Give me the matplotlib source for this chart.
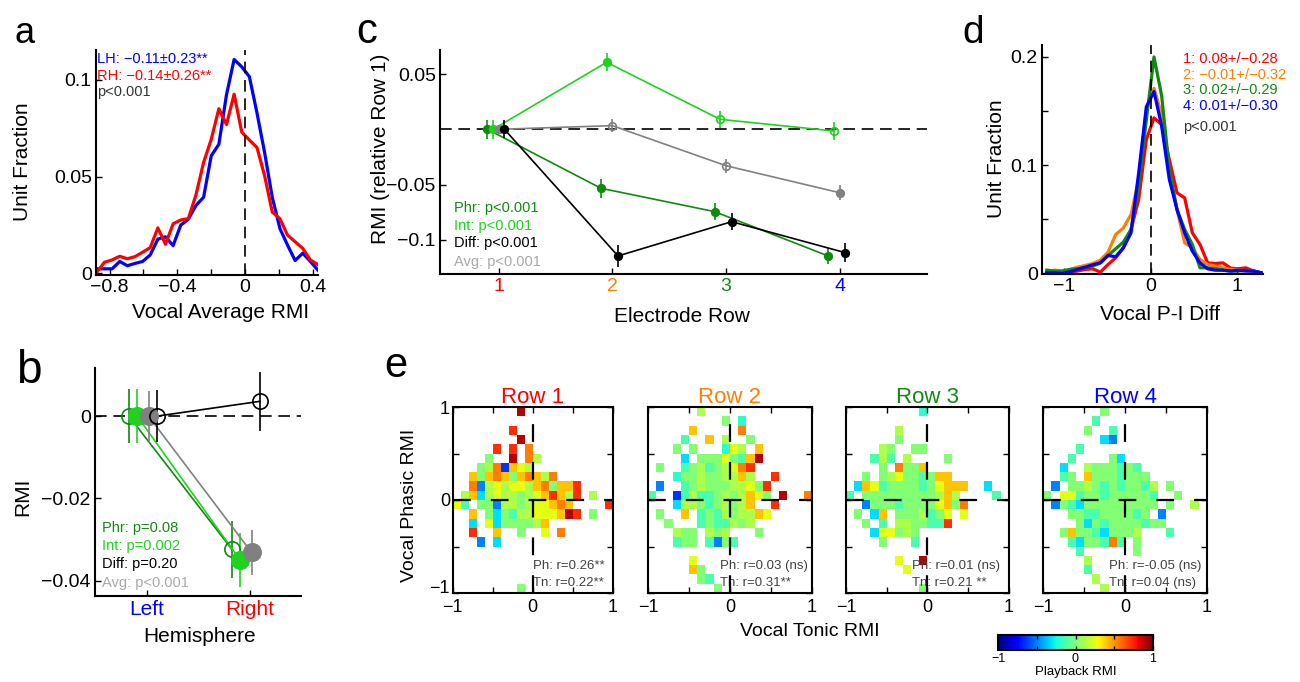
import numpy as np
import matplotlib
matplotlib.use('Agg')
import matplotlib.pyplot as plt
from matplotlib.colors import Normalize
from matplotlib.cm import ScalarMappable

plt.rcParams['font.family'] = ['Liberation Sans', 'DejaVu Sans']

W, H = 1300, 682

RED = '#ff0000'
ORANGE = '#ff8000'
DKGREEN = '#0f8a0f'
LTGREEN = '#1ed21e'
BLUE = '#0000ff'
GRAY = '#808080'
LTGRAY = '#a8a8a8'
DASH = (0, (7, 4))

# ---- a: vocal average RMI distributions ----
rmi_bins = np.linspace(-0.875, 0.43, 30)
lh_frac = [0.0022, 0.0022, 0.0022, 0.006, 0.0038, 0.005, 0.006, 0.0094, 0.0176, 0.0188,
           0.0142, 0.0248, 0.0279, 0.035, 0.0393, 0.0607, 0.0667, 0.0923, 0.1106, 0.1068,
           0.1017, 0.0829, 0.0624, 0.0393, 0.0231, 0.0145, 0.0065, 0.0103, 0.006, 0.0015]
rh_frac = [0.0005, 0.0056, 0.0068, 0.0087, 0.0074, 0.0085, 0.0108, 0.0132, 0.0234, 0.0149,
           0.0255, 0.0275, 0.0282, 0.0405, 0.0573, 0.0692, 0.0851, 0.0769, 0.0926, 0.073,
           0.0689, 0.065, 0.0504, 0.0316, 0.0282, 0.0197, 0.0162, 0.0128, 0.0068, 0.0043]

# ---- b: hemisphere ----
hemis = ['Left', 'Right']
b_phr = [0.0, -0.0324]
b_phr_err = [0.0066, 0.0069]
b_int = [0.0, -0.035]
b_int_err = [0.0066, 0.0065]
b_avg = [0.0, -0.0331]
b_avg_err = [0.006, 0.0054]
b_diff = [0.0, 0.0036]
b_diff_err = [0.0063, 0.0072]

# ---- c: electrode row ----
elec_rows = [1, 2, 3, 4]
c_phr = [0.0, -0.0533, -0.0744, -0.1145]
c_phr_err = [0.0087, 0.0087, 0.0075, 0.0075]
c_int = [0.0, 0.0606, 0.009, -0.0015]
c_int_err = [0.0087, 0.0083, 0.0075, 0.0078]
c_avg = [0.0, 0.0033, -0.0329, -0.0573]
c_avg_err = [0.004, 0.006, 0.0065, 0.0068]
c_diff = [0.0, -0.1145, -0.0835, -0.1115]
c_diff_err = [0.0083, 0.0101, 0.0078, 0.0083]
c_int_filled = [True, True, False, False]
c_avg_filled = [True, False, False, True]

# ---- d: phasic - tonic difference ----
pi_bins = np.linspace(-1.2, 1.28, 29)
pi_row1 = [0.0, 0.0003, 0.0006, 0.0012, 0.0022, 0.0037, 0.0043, 0.0012, 0.0083, 0.0145,
           0.0237, 0.0406, 0.0683, 0.1237, 0.1437, 0.1375, 0.1052, 0.0745, 0.0698, 0.0375,
           0.0268, 0.0098, 0.0092, 0.0098, 0.0049, 0.0043, 0.0052, 0.0022, 0.0006]
pi_row2 = [0.0012, 0.0031, 0.0022, 0.0037, 0.0058, 0.0074, 0.0092, 0.0123, 0.0197, 0.036,
           0.042, 0.0545, 0.0868, 0.151, 0.171, 0.1468, 0.093, 0.059, 0.0283, 0.0237,
           0.0129, 0.0083, 0.0068, 0.0052, 0.0037, 0.0031, 0.0025, 0.0022, 0.0006]
pi_row3 = [0.0031, 0.0022, 0.0022, 0.0037, 0.0043, 0.0055, 0.0068, 0.0098, 0.0166, 0.0228,
           0.029, 0.0406, 0.0806, 0.142, 0.2, 0.164, 0.096, 0.059, 0.0406, 0.0268,
           0.0052, 0.0052, 0.0043, 0.0031, 0.0022, 0.0022, 0.0031, 0.0022, 0.0006]
pi_row4 = [0.0006, 0.0006, 0.0, 0.0015, 0.0037, 0.0058, 0.008, 0.0098, 0.0166, 0.0154,
           0.0237, 0.0375, 0.093, 0.154, 0.168, 0.136, 0.0868, 0.059, 0.0375, 0.0206,
           0.0098, 0.0043, 0.003, 0.003, 0.0022, 0.003, 0.0022, 0.0022, 0.0006]
pi_labels = ['1: 0.08+/\u22120.28', '2: \u22120.01+/\u22120.32',
             '3: 0.02+/\u22120.29', '4: 0.01+/\u22120.30']

# ---- e: playback RMI on phasic/tonic grid, one char per cell (top row first) ----
cell_value = {'D': 0.9, 'R': 0.72, 'O': 0.55, 'o': 0.4, 'Y': 0.25, 'y': 0.12,
              'g': 0.02, 'm': -0.12, 't': -0.2, 'c': -0.32, 'b': -0.5, 'B': -0.65}
row1_cells = [
    "........D...........",
    "....................",
    ".......R............",
    "........D...........",
    ".....R.R.O..........",
    "....g..D.Oy.........",
    "...gyOBoYy..........",
    "..ogoOogoOoyO.......",
    "..ObyYyYYyoOgooR....",
    ".yocyYyygyYoRoyR.y..",
    "Ym.ggbyygyYYoOo....R",
    "..o.gcgmyyYYYoDR.g..",
    "..c.Ycggggyo........",
    "..R..o..g..Y.O......",
    "...b.c..............",
    "....................",
    "....................",
    "....................",
    "....................",
    "........g...........",
]
row2_cells = [
    "......y.............",
    ".........g.t........",
    ".....o.....O........",
    "....m..o.y..g.......",
    "...g.g...tYy.o......",
    "....c.gggYgmoD......",
    ".g..mgymgyYOR.......",
    "...tggyggyyoy..R....",
    ".b..mgygggyyYgR.....",
    "m..BmymmgygyoYg.D..O",
    "...cyygmgygyo..R....",
    ".g..o.mgmygyyoY.....",
    "..g...mgmmygy.......",
    "...ygg.ygy...g......",
    "...mgg.mbgm.........",
    "....................",
    ".....Y..............",
    ".....og.............",
    "......gm............",
    "........g...........",
]
row3_cells = [
    ".........t..........",
    "....................",
    "......y.............",
    "......g.............",
    "....yg..gg..........",
    "...mym.y....g.......",
    "....g.Oggo..........",
    "..g.gyYggmgoo.......",
    ".coYmggggmgYooo..c..",
    "m.gggggggggyoy....m.",
    "..bgggmggggYogO.....",
    ".g.co.gggymgY.Y.....",
    "..g.m.yyggmmR.......",
    "...cYYgyg...........",
    "....g...m...........",
    "....................",
    "......Y..D..........",
    ".......Y............",
    "....................",
    ".........g..........",
]
row4_cells = [
    ".......g............",
    "......m.............",
    ".....g..m...........",
    ".......cb...........",
    "....m...............",
    "...m....gc..........",
    "..c..ygggmgm........",
    "..mg.ogggmggg.......",
    ".b.ggygmgmggmy.g....",
    "g.YYmggmgggggm..g...",
    ".bgmcggggggggg.g..y.",
    "...ggmmggggmg.b.....",
    "....gcgmggggmgg.....",
    "..goggmcgggy...m....",
    "...mcggmOm.g........",
    "....m......g........",
    ".....y..............",
    ".....m..............",
    "......y.............",
    ".......y............",
]
e_titles = ['Row 1', 'Row 2', 'Row 3', 'Row 4']
e_stats = [('Ph: r=0.26**', 'Tn: r=0.22**'),
           ('Ph: r=0.03 (ns)', 'Tn: r=0.31**'),
           ('Ph: r=0.01 (ns)', 'Tn: r=0.21 **'),
           ('Ph: r=-0.05 (ns)', 'Tn: r=0.04 (ns)')]


def px_box(l, t, r, b):
    return [l / W, 1 - b / H, (r - l) / W, (b - t) / H]


def fig_text(x, y, s, **kw):
    kw.setdefault('ha', 'center')
    kw.setdefault('va', 'center')
    fig.text(x / W, 1 - y / H, s, **kw)


def open_axes(ax):
    ax.spines[['top', 'right']].set_visible(False)
    ax.spines[['left', 'bottom']].set_linewidth(1.5)


def grid_values(rows):
    vals = np.array([[cell_value.get(ch, np.nan) for ch in r.ljust(20)[:20]] for r in rows])
    return np.ma.masked_invalid(vals[::-1])


def draw_series(ax, x, y, err, color, filled, ms, lw):
    ax.plot(x, y, color=color, lw=lw, zorder=2)
    ax.errorbar(x, y, yerr=err, fmt='none', ecolor=color, elinewidth=lw, capsize=0, zorder=2)
    for xi, yi, f in zip(x, y, filled):
        ax.plot(xi, yi, 'o', ms=ms, mec=color, mew=1.2,
                mfc=color if f else 'none', zorder=3)


fig = plt.figure(figsize=(13, 6.82), dpi=100)

# a
ax = fig.add_axes(px_box(96, 50, 318, 275))
ax.plot(rmi_bins, lh_frac, color=BLUE, lw=2.3)
ax.plot(rmi_bins, rh_frac, color=RED, lw=2.3)
ax.axvline(0, color='k', ls=DASH, lw=1.2)
ax.set_xlim(-0.88, 0.43)
ax.set_ylim(-0.001, 0.1155)
ax.set_xticks([-0.8, -0.6, -0.4, -0.2, 0, 0.2, 0.4])
ax.set_xticklabels(['\u22120.8', '', '\u22120.4', '', '0', '', '0.4'])
ax.set_yticks([0, 0.05, 0.1])
ax.set_yticklabels(['0', '0.05', '0.1'])
ax.tick_params(direction='in', length=4, width=1, labelsize=14, pad=3)
open_axes(ax)
fig_text(97, 59, 'LH: \u22120.11\u00b10.23**', color=BLUE, ha='left', fontsize=10.5)
fig_text(97, 76, 'RH: \u22120.14\u00b10.26**', color=RED, ha='left', fontsize=10.5)
fig_text(97, 92, 'p<0.001', color='#333333', ha='left', fontsize=10.5)
fig_text(23, 162, 'Unit Fraction', rotation=90, fontsize=15)
fig_text(221, 312, 'Vocal Average RMI', fontsize=15)

# b
ax = fig.add_axes(px_box(95, 368, 301, 596))
ax.axhline(0, color='k', ls=DASH, lw=1.2, zorder=1)
pos = np.arange(1, len(hemis) + 1)
draw_series(ax, pos - 0.17, b_phr, b_phr_err, DKGREEN, [False, False], 11, 1.2)
draw_series(ax, pos - 0.09, b_int, b_int_err, LTGREEN, [True, True], 12.5, 1.2)
draw_series(ax, pos + 0.02, b_avg, b_avg_err, GRAY, [True, True], 12.5, 1.2)
draw_series(ax, pos + 0.1, b_diff, b_diff_err, 'k', [False, False], 11, 1.2)
ax.set_xlim(0.5, 2.5)
ax.set_ylim(-0.0437, 0.0117)
ax.set_xticks(pos)
ax.set_xticklabels(hemis, fontsize=15)
for lbl, col in zip(ax.get_xticklabels(), [BLUE, RED]):
    lbl.set_color(col)
ax.set_yticks([-0.04, -0.02, 0])
ax.set_yticklabels(['\u22120.04', '\u22120.02', '0'])
ax.tick_params(axis='y', labelsize=14)
ax.tick_params(direction='in', length=4, width=1, pad=3)
open_axes(ax)
fig_text(102, 528, 'Phr: p=0.08', color=DKGREEN, ha='left', fontsize=10.5)
fig_text(102, 546, 'Int: p=0.002', color=LTGREEN, ha='left', fontsize=10.5)
fig_text(102, 564, 'Diff: p=0.20', color='k', ha='left', fontsize=10.5)
fig_text(102, 583, 'Avg: p<0.001', color=LTGRAY, ha='left', fontsize=10.5)
fig_text(23, 497, 'RMI', rotation=90, fontsize=15)
fig_text(200, 637, 'Hemisphere', fontsize=15)

# c
ax = fig.add_axes(px_box(440, 50, 927, 274))
ax.axhline(0, color='k', ls=DASH, lw=1.2, zorder=1)
rpos = np.array(elec_rows, dtype=float)
draw_series(ax, rpos - 0.1, c_phr, c_phr_err, DKGREEN, [True] * 4, 5.5, 1.2)
draw_series(ax, rpos - 0.05, c_int, c_int_err, LTGREEN, c_int_filled, 5.5, 1.2)
draw_series(ax, rpos, c_avg, c_avg_err, GRAY, c_avg_filled, 5.5, 1.2)
draw_series(ax, rpos + 0.05, c_diff, c_diff_err, 'k', [True] * 4, 5.5, 1.2)
ax.set_xlim(0.483, 4.77)
ax.set_ylim(-0.1308, 0.0717)
ax.set_xticks(elec_rows)
ax.set_xticklabels([str(r) for r in elec_rows], fontsize=14)
for lbl, col in zip(ax.get_xticklabels(), [RED, ORANGE, DKGREEN, BLUE]):
    lbl.set_color(col)
ax.set_yticks([-0.1, -0.05, 0.05])
ax.set_yticklabels(['\u22120.1', '\u22120.05', '0.05'])
ax.tick_params(axis='y', labelsize=14)
ax.tick_params(direction='in', length=4, width=1, pad=3)
open_axes(ax)
fig_text(454, 208, 'Phr: p<0.001', color=DKGREEN, ha='left', fontsize=10.5)
fig_text(454, 226, 'Int: p<0.001', color=LTGREEN, ha='left', fontsize=10.5)
fig_text(454, 243, 'Diff: p<0.001', color='k', ha='left', fontsize=10.5)
fig_text(454, 262, 'Avg: p<0.001', color=LTGRAY, ha='left', fontsize=10.5)
fig_text(380, 149, 'RMI (relative Row 1)', rotation=90, fontsize=15)
fig_text(682, 316, 'Electrode Row', fontsize=15)

# d
ax = fig.add_axes(px_box(1042, 45, 1263, 274))
for vals, col in zip([pi_row1, pi_row2, pi_row3, pi_row4], [RED, ORANGE, DKGREEN, BLUE]):
    ax.plot(pi_bins, vals, color=col, lw=2.3)
ax.axvline(0, color='k', ls=DASH, lw=1.2)
ax.set_xlim(-1.255, 1.3)
ax.set_ylim(-0.0005, 0.211)
ax.set_xticks([-1, 0, 1])
ax.set_xticklabels(['\u22121', '0', '1'])
ax.set_yticks([0, 0.05, 0.1, 0.15, 0.2])
ax.set_yticklabels(['0', '', '0.1', '', '0.2'])
ax.tick_params(direction='in', length=4, width=1, labelsize=14, pad=3)
open_axes(ax)
for i, (s, col) in enumerate(zip(pi_labels, [RED, ORANGE, DKGREEN, BLUE])):
    fig_text(1183, 59 + 15.6 * i, s, color=col, ha='left', fontsize=10.5)
fig_text(1183, 127, 'p<0.001', color='#333333', ha='left', fontsize=10.5)
fig_text(997, 159, 'Unit Fraction', rotation=90, fontsize=15)
fig_text(1160, 315, 'Vocal P-I Diff', fontsize=15)

# e
edges = np.linspace(-1, 1, 21)
e_boxes = [(452.7, 407, 612.7, 593), (648, 407, 812, 593),
           (846, 407, 1008.7, 593), (1043.3, 407, 1206.7, 593)]
e_text_x = [0.0, -0.12, -0.19, -0.2]
cmap = plt.get_cmap('jet')
norm = Normalize(-1, 1)
for i, cells in enumerate([row1_cells, row2_cells, row3_cells, row4_cells]):
    ax = fig.add_axes(px_box(*e_boxes[i]))
    ax.pcolormesh(edges, edges, grid_values(cells), cmap=cmap, norm=norm, zorder=1)
    ax.axhline(0, color='k', ls=(0, (8, 9)), lw=1.6, zorder=5)
    ax.axvline(0, color='k', ls=(0, (8, 9)), lw=1.6, zorder=5)
    ax.set_xlim(-1, 1)
    ax.set_ylim(-1, 1)
    ax.set_xticks([-1, -0.5, 0, 0.5, 1])
    ax.set_xticklabels(['\u22121', '', '0', '', '1'])
    ax.set_yticks([-1, -0.5, 0, 0.5, 1])
    if i == 0:
        ax.set_yticklabels(['\u22121', '', '0', '', '1'])
        ax.get_yticklabels()[0].set_va('baseline')
    else:
        ax.set_yticklabels([])
    ax.tick_params(direction='in', length=4, width=1, top=True, right=True,
                   labelsize=13, pad=2)
    ax.tick_params(axis='x', pad=4)
    for sp in ax.spines.values():
        sp.set_linewidth(1.5)
    ax.set_title(e_titles[i], color=[RED, ORANGE, DKGREEN, BLUE][i], fontsize=16, pad=3)
    ax.text(e_text_x[i], -0.71, e_stats[i][0], color='#404040', fontsize=9.5,
            ha='left', va='center', zorder=4)
    ax.text(e_text_x[i], -0.89, e_stats[i][1], color='#404040', fontsize=9.5,
            ha='left', va='center', zorder=4)

fig_text(410, 505, 'Vocal Phasic RMI', rotation=90, fontsize=14)
fig_text(810, 632, 'Vocal Tonic RMI', fontsize=14)

cax = fig.add_axes(px_box(998, 635, 1153, 650))
cb = fig.colorbar(ScalarMappable(norm=norm, cmap=cmap), cax=cax, orientation='horizontal')
cb.set_ticks([-1, -0.5, 0, 0.5, 1])
cb.set_ticklabels(['\u22121', '', '0', '', '1'])
cax.tick_params(direction='in', length=3, width=1, top=True, labelsize=9, pad=2)
cb.outline.set_linewidth(1.5)
fig_text(1076, 672, 'Playback RMI', fontsize=9.5)

# panel letters
fig_text(15, 43, 'a', ha='left', va='baseline', fontsize=26)
fig_text(16, 383, 'b', ha='left', va='baseline', fontsize=33)
fig_text(356, 43, 'c', ha='left', va='baseline', fontsize=30)
fig_text(962, 43, 'd', ha='left', va='baseline', fontsize=28)
fig_text(384, 377, 'e', ha='left', va='baseline', fontsize=30)

fig.savefig('out.png', dpi=100)
